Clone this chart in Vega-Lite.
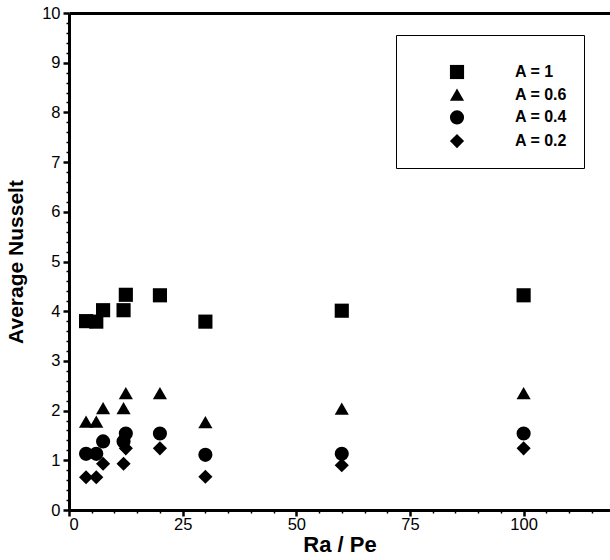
{
  "$schema": "https://vega.github.io/schema/vega-lite/v6.json",
  "autosize": {"type": "none"},
  "width": 541,
  "height": 497,
  "padding": {"left": 69, "top": 13, "right": 0, "bottom": 50},
  "background": "white",
  "config": {
    "view": {"stroke": "transparent"},
    "font": "Liberation Sans"
  },
  "data": {"values": [
    {"x": 3.75, "y": 3.8, "series": "A = 1"},
    {"x": 6, "y": 3.79, "series": "A = 1"},
    {"x": 7.5, "y": 4.02, "series": "A = 1"},
    {"x": 12, "y": 4.02, "series": "A = 1"},
    {"x": 12.5, "y": 4.33, "series": "A = 1"},
    {"x": 20, "y": 4.32, "series": "A = 1"},
    {"x": 30, "y": 3.79, "series": "A = 1"},
    {"x": 60, "y": 4.01, "series": "A = 1"},
    {"x": 100, "y": 4.32, "series": "A = 1"},
    {"x": 3.75, "y": 1.78, "series": "A = 0.6"},
    {"x": 6, "y": 1.78, "series": "A = 0.6"},
    {"x": 7.5, "y": 2.05, "series": "A = 0.6"},
    {"x": 12, "y": 2.05, "series": "A = 0.6"},
    {"x": 12.5, "y": 2.35, "series": "A = 0.6"},
    {"x": 20, "y": 2.35, "series": "A = 0.6"},
    {"x": 30, "y": 1.77, "series": "A = 0.6"},
    {"x": 60, "y": 2.04, "series": "A = 0.6"},
    {"x": 100, "y": 2.35, "series": "A = 0.6"},
    {"x": 3.75, "y": 1.13, "series": "A = 0.4"},
    {"x": 6, "y": 1.13, "series": "A = 0.4"},
    {"x": 7.5, "y": 1.38, "series": "A = 0.4"},
    {"x": 12, "y": 1.38, "series": "A = 0.4"},
    {"x": 12.5, "y": 1.54, "series": "A = 0.4"},
    {"x": 20, "y": 1.54, "series": "A = 0.4"},
    {"x": 30, "y": 1.11, "series": "A = 0.4"},
    {"x": 60, "y": 1.13, "series": "A = 0.4"},
    {"x": 100, "y": 1.54, "series": "A = 0.4"},
    {"x": 3.75, "y": 0.66, "series": "A = 0.2"},
    {"x": 6, "y": 0.66, "series": "A = 0.2"},
    {"x": 7.5, "y": 0.93, "series": "A = 0.2"},
    {"x": 12, "y": 0.93, "series": "A = 0.2"},
    {"x": 12.5, "y": 1.24, "series": "A = 0.2"},
    {"x": 20, "y": 1.24, "series": "A = 0.2"},
    {"x": 30, "y": 0.67, "series": "A = 0.2"},
    {"x": 60, "y": 0.9, "series": "A = 0.2"},
    {"x": 100, "y": 1.24, "series": "A = 0.2"}
  ]},
  "layer": [
    {
      "mark": {"type": "point", "opacity": 0},
      "encoding": {
        "x": {"field": "x", "type": "quantitative", "scale": {"domain": [0, 119], "nice": false, "zero": false},
          "axis": {"orient": "bottom", "values": [5,10,15,20,30,35,40,45,55,60,65,70,80,85,90,95,105,110,115], "grid": false, "tickColor": "black", "tickSize": 3, "tickWidth": 1.5, "labels": false, "domain": false, "title": null}},
        "y": {"field": "y", "type": "quantitative", "scale": {"domain": [0, 10], "nice": false, "zero": false},
          "axis": {"orient": "left", "values": [0.2,0.4,0.6,0.8,1.2,1.4,1.6,1.8,2.2,2.4,2.6,2.8,3.2,3.4,3.6,3.8,4.2,4.4,4.6,4.8,5.2,5.4,5.6,5.8,6.2,6.4,6.6,6.8,7.2,7.4,7.6,7.8,8.2,8.4,8.6,8.8,9.2,9.4,9.6,9.8], "grid": false, "tickColor": "black", "tickSize": 3, "tickWidth": 1.5, "labels": false, "domain": false, "title": null}}
      }
    },
    {
      "mark": {"type": "point", "opacity": 0},
      "encoding": {
        "x": {"field": "x", "type": "quantitative",
          "axis": {"orient": "top", "ticks": false, "labels": false, "grid": false, "domain": true, "domainColor": "black", "domainWidth": 3, "title": null}},
        "y": {"field": "y", "type": "quantitative", "axis": null}
      }
    },
    {
      "mark": {"type": "point", "filled": true, "color": "black", "opacity": 1, "size": 200},
      "encoding": {
        "x": {"field": "x", "type": "quantitative",
          "axis": {"orient": "bottom", "values": [0,25,50,75,100], "grid": false, "domainColor": "black", "tickColor": "black", "labelColor": "black", "titleColor": "black", "tickSize": 6, "tickWidth": 2.5, "domainWidth": 3, "labelFont": "Liberation Sans", "labelFontSize": 16.5, "labelPadding": 0, "title": "Ra / Pe", "titleFont": "Liberation Sans", "titleFontSize": 22, "titleFontWeight": "bold", "titlePadding": 2}},
        "y": {"field": "y", "type": "quantitative",
          "axis": {"orient": "left", "values": [0,1,2,3,4,5,6,7,8,9,10], "grid": false, "domainColor": "black", "tickColor": "black", "labelColor": "black", "titleColor": "black", "tickSize": 6, "tickWidth": 2.5, "domainWidth": 3, "labelFont": "Liberation Sans", "labelFontSize": 16.5, "labelPadding": 3, "title": "Average Nusselt", "titleFont": "Liberation Sans", "titleFontSize": 21, "titleFontWeight": "bold", "titlePadding": 15}},
        "shape": {"field": "series", "type": "nominal",
          "scale": {"domain": ["A = 1", "A = 0.6", "A = 0.4", "A = 0.2"], "range": ["square", "triangle-up", "circle", "diamond"]},
          "legend": {"title": " ", "titleFontSize": 10, "titlePadding": 3, "orient": "none", "legendX": 327, "legendY": 22,
            "strokeColor": "black", "fillColor": "white", "padding": 16,
            "symbolOffset": 37, "labelOffset": 50, "symbolSize": 200, "symbolFillColor": "black", "symbolStrokeColor": "black", "symbolOpacity": 1,
            "labelFont": "Liberation Sans", "labelFontSize": 16, "labelFontWeight": "bold", "labelColor": "black", "rowPadding": 1.7}}
      }
    }
  ],
  "resolve": {"axis": {"x": "independent", "y": "independent"}}
}
